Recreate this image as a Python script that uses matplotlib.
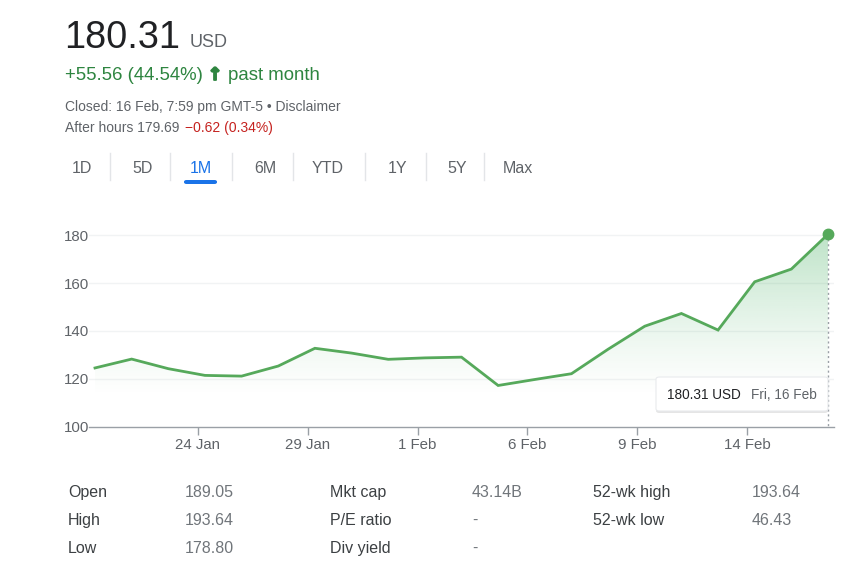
import matplotlib
matplotlib.use("Agg")
import matplotlib.pyplot as plt
import matplotlib.patheffects as pe
import numpy as np
from matplotlib.patches import FancyBboxPatch, Polygon
from matplotlib.colors import to_rgb

plt.rcParams['font.family'] = ['Liberation Sans', 'DejaVu Sans']

# ---------------- data ----------------
price = "180.31"
currency = "USD"
change_text = "+55.56 (44.54%)"
arrow = "↑"
period_text = "past month"
closed_text = "Closed: 16 Feb, 7:59 pm GMT-5 • Disclaimer"
after_hours_label = "After hours 179.69"
after_hours_change = "−0.62 (0.34%)"
tabs = ["1D", "5D", "1M", "6M", "YTD", "1Y", "5Y", "Max"]
active_tab = "1M"

dates = ["19 Jan", "22 Jan", "23 Jan", "24 Jan", "25 Jan", "26 Jan", "29 Jan",
         "30 Jan", "31 Jan", "1 Feb", "2 Feb", "5 Feb", "6 Feb", "7 Feb",
         "8 Feb", "9 Feb", "12 Feb", "13 Feb", "14 Feb", "15 Feb", "16 Feb"]
closes = [124.6, 128.3, 124.3, 121.5, 121.2, 125.4, 132.8, 130.8, 128.2, 128.8,
          129.1, 117.3, 119.8, 122.2, 132.4, 142.0, 147.3, 140.4, 160.5, 165.8, 180.31]
tick_labels = ["24 Jan", "29 Jan", "1 Feb", "6 Feb", "9 Feb", "14 Feb"]
y_ticks = [100, 120, 140, 160, 180]
tooltip_value = "180.31 USD"
tooltip_date = "Fri, 16 Feb"

stats_labels_1 = ["Open", "High", "Low"]
stats_values_1 = ["189.05", "193.64", "178.80"]
stats_labels_2 = ["Mkt cap", "P/E ratio", "Div yield"]
stats_values_2 = ["43.14B", "-", "-"]
stats_labels_3 = ["52-wk high", "52-wk low"]
stats_values_3 = ["193.64", "46.43"]

# ---------------- figure ----------------
W, H = 850, 567
fig = plt.figure(figsize=(W / 100, H / 100), dpi=100)
fig.patch.set_facecolor("white")

def fx(x):
    return x / W

def fy(y):
    return 1 - y / H

DARK = "#202124"
GRAY = "#5f6368"
LGRAY = "#70757a"
GREEN_T = "#2e8540"
RED = "#c5221f"
BLUE = "#1a73e8"
LINE = "#56a95b"

# header
fig.text(fx(64), fy(48), price, fontsize=27.3, color=DARK, va="baseline", ha="left")
fig.text(fx(190), fy(47), currency, fontsize=13, color=GRAY, va="baseline", ha="left")
fig.text(fx(65), fy(80), change_text, fontsize=13.4, color=GREEN_T, va="baseline", ha="left")
fig.text(fx(215), fy(80), arrow, fontsize=12.5, color=GREEN_T, va="baseline", ha="center",
         family=["DejaVu Sans"], fontweight="bold",
         path_effects=[pe.withStroke(linewidth=1.3, foreground=GREEN_T)])
fig.text(fx(228), fy(80), period_text, fontsize=13.4, color=GREEN_T, va="baseline", ha="left")
fig.text(fx(65), fy(111), closed_text, fontsize=10, color=GRAY, va="baseline", ha="left")
fig.text(fx(65), fy(132), after_hours_label, fontsize=10, color=GRAY, va="baseline", ha="left")
fig.text(fx(185), fy(132), after_hours_change, fontsize=10, color=RED, va="baseline", ha="left")

# tabs
tab_x = [82, 143, 201, 265, 328, 398, 457, 518]
sep_x = [110, 170, 232, 293, 365, 426, 484]
for name, x in zip(tabs, tab_x):
    c = BLUE if name == active_tab else GRAY
    fig.text(fx(x), fy(173), name, fontsize=11.5, color=c, va="baseline", ha="center")
for x in sep_x:
    fig.add_artist(plt.Line2D([fx(x), fx(x)], [fy(153), fy(180)], color="#e3e5e8", lw=1,
                              transform=fig.transFigure))
ul = FancyBboxPatch((fx(184), fy(184)), fx(33), 4 / H, boxstyle="round,pad=0,rounding_size=0.003",
                    transform=fig.transFigure, facecolor=BLUE, edgecolor="none")
fig.add_artist(ul)

# ---------------- chart ----------------
n = len(closes)
x0_px, px_per = 95.0, (828 - 95) / (n - 1)
ax_left, ax_right = 89, 834
ax_top, ax_bot = 222, 427
ymin, ymax = 100, 180 + (235 - ax_top) / 2.4
ax = fig.add_axes([fx(ax_left), fy(ax_bot), (ax_right - ax_left) / W, (ax_bot - ax_top) / H])
ax.set_xlim((ax_left - x0_px) / px_per, (ax_right - x0_px) / px_per)
ax.set_ylim(ymin, ymax)
for s in ["top", "right", "left"]:
    ax.spines[s].set_visible(False)
ax.spines["bottom"].set_color("#9aa0a6")
ax.spines["bottom"].set_linewidth(1)

xs = np.arange(n)
for yv in y_ticks[1:]:
    ax.axhline(yv, color="#f1f3f4", lw=1, zorder=0)

# gradient fill
rgb = np.array(to_rgb("#34a853"))
grad_h = 256
yy = np.linspace(ymax, ymin, grad_h)
alpha = np.clip((yy - 112) / (180 - 112), 0, 1) ** 1.3 * 0.32
img = np.zeros((grad_h, 2, 4))
img[..., :3] = rgb
img[..., 3] = alpha[:, None]
im = ax.imshow(img, extent=[0, n - 1, ymin, ymax], aspect="auto", origin="upper", zorder=1,
               interpolation="bilinear")
poly = Polygon(np.column_stack([np.r_[xs, xs[-1], xs[0]], np.r_[closes, ymin, ymin]]),
               closed=True, transform=ax.transData, facecolor="none", edgecolor="none")
ax.add_patch(poly)
im.set_clip_path(poly)

ax.plot(xs, closes, color=LINE, lw=2, zorder=3, solid_joinstyle="miter")
ax.plot([xs[-1], xs[-1]], [closes[-1], ymin], color="#9aa0a6", lw=1, ls=(0, (1.5, 2)), zorder=2)
ax.plot([xs[-1]], [closes[-1]], "o", color=LINE, ms=7.5, zorder=4, clip_on=False)

tick_pos = [dates.index(d) - 0.2 for d in tick_labels]
ax.set_xticks(tick_pos)
ax.set_xticklabels(tick_labels)
ax.set_yticks(y_ticks)
ax.set_yticklabels([str(v) for v in y_ticks])
ax.tick_params(axis="x", length=6, width=1, color="#9aa0a6", labelcolor=GRAY, labelsize=10.8, pad=2)
ax.tick_params(axis="y", length=0, labelcolor=GRAY, labelsize=10.8, pad=0)

# tooltip
tx0, tx1, ty0, ty1 = 656, 828, 377, 411
sh = FancyBboxPatch((fx(tx0), fy(ty1 + 2)), (tx1 - tx0) / W, (ty1 - ty0) / H,
                    boxstyle="round,pad=0,rounding_size=0.004", transform=fig.transFigure,
                    facecolor="#000000", alpha=0.10, edgecolor="none", zorder=5)
fig.add_artist(sh)
box = FancyBboxPatch((fx(tx0), fy(ty1)), (tx1 - tx0) / W, (ty1 - ty0) / H,
                     boxstyle="round,pad=0,rounding_size=0.004", transform=fig.transFigure,
                     facecolor="white", edgecolor="#e8eaed", lw=0.8, zorder=6)
fig.add_artist(box)
fig.text(fx(667), fy(399), tooltip_value, fontsize=9.8, color=DARK, va="baseline", ha="left", zorder=7)
fig.text(fx(751), fy(399), tooltip_date, fontsize=9.8, color=GRAY, va="baseline", ha="left", zorder=7)

# ---------------- stats ----------------
row_y = [497, 525, 553]
cols = [(68, 185, stats_labels_1, stats_values_1),
        (330, 472, stats_labels_2, stats_values_2),
        (593, 752, stats_labels_3, stats_values_3)]
for lx, vx, labs, vals in cols:
    for i, (l, v) in enumerate(zip(labs, vals)):
        fig.text(fx(lx), fy(row_y[i]), l, fontsize=11.5, color="#3c4043", va="baseline", ha="left")
        fig.text(fx(vx), fy(row_y[i]), v, fontsize=11.5, color=LGRAY, va="baseline", ha="left")

fig.savefig("out.png", dpi=100, facecolor="white")
